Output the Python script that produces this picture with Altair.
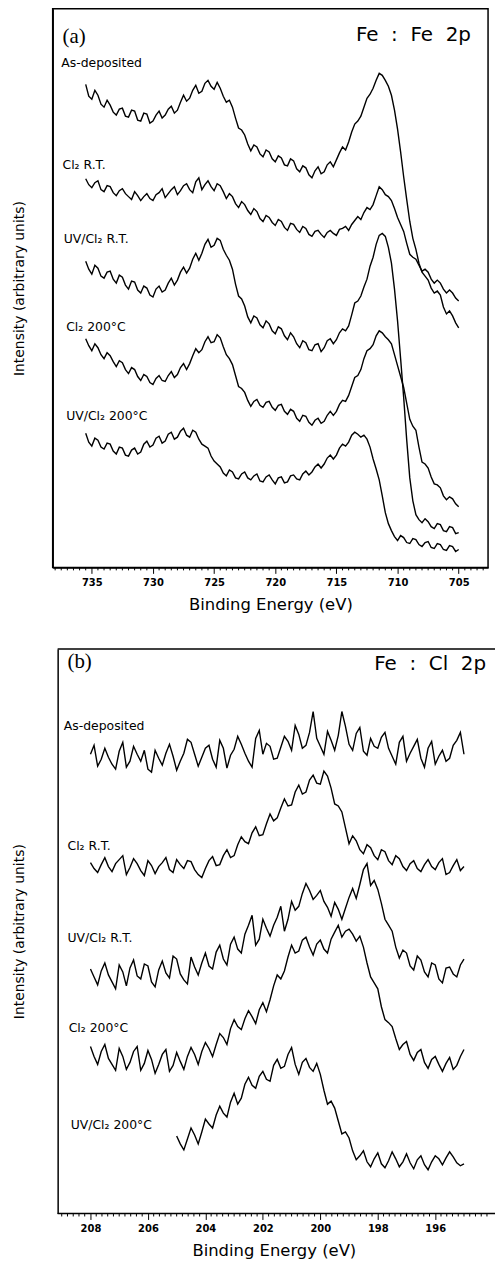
import altair as alt
import pandas as pd

FONT = "DejaVu Sans"

# ---------------- Panel (a): Fe 2p ----------------
FE_E = [735.5 - 0.25 * i for i in range(123)]  # binding-energy sampling grid (eV)

fe_as_dep = [486, 474, 471, 480, 475, 466, 463, 470, 465, 458,
             455, 461, 462, 454, 453, 460, 459, 450, 449, 457,
             456, 447, 449, 455, 459, 452, 455, 461, 464, 457,
             460, 468, 475, 469, 472, 480, 485, 477, 479, 487,
             490, 484, 481, 488, 482, 474, 468, 470, 463, 452,
             442, 440, 435, 426, 419, 425, 423, 416, 413, 420,
             418, 411, 408, 414, 412, 405, 404, 411, 409, 401,
             398, 404, 402, 395, 392, 399, 403, 396, 398, 405,
             408, 403, 410, 417, 423, 420, 428, 438, 446, 449,
             454, 463, 472, 476, 482, 490, 497, 495, 490, 484,
             475, 460, 441, 418, 393, 370, 348, 331, 320, 306,
             297, 293, 289, 281, 276, 278, 274, 262, 255, 258,
             253, 246, 241]
fe_cl2_rt = [391, 385, 382, 387, 389, 380, 378, 384, 383, 377,
             374, 379, 381, 376, 373, 370, 378, 374, 369, 373,
             376, 371, 369, 375, 377, 381, 372, 376, 380, 383,
             375, 379, 384, 386, 380, 377, 388, 392, 380, 385,
             389, 383, 379, 386, 384, 378, 371, 376, 373, 366,
             362, 368, 365, 359, 355, 361, 358, 351, 348, 354,
             352, 347, 344, 350, 348, 342, 339, 346, 345, 340,
             337, 343, 341, 335, 333, 338, 339, 335, 332, 337,
             339, 336, 334, 340, 341, 343, 339, 345, 349, 353,
             350, 357, 362, 360, 365, 374, 383, 380, 375, 373,
             369, 361, 352, 345, 338, 326, 315, 312, 310, 304,
             298, 300, 297, 290, 286, 289, 286, 280, 276, 279,
             276, 271, 268]
fe_uv_rt = [308, 300, 295, 304, 301, 293, 291, 297, 298, 290,
            286, 294, 292, 284, 280, 288, 287, 279, 276, 283,
            281, 274, 272, 280, 283, 277, 279, 286, 291, 284,
            289, 297, 302, 296, 301, 310, 316, 309, 316, 325,
            330, 322, 324, 331, 329, 320, 314, 309, 300, 285,
            273, 270, 263, 252, 246, 253, 251, 244, 241, 248,
            245, 238, 235, 242, 240, 233, 229, 236, 232, 225,
            221, 228, 226, 219, 218, 224, 225, 217, 221, 228,
            230, 225, 229, 236, 240, 238, 243, 254, 266, 268,
            273, 282, 290, 303, 312, 325, 334, 336, 333, 322,
            306, 280, 248, 210, 171, 128, 90, 67, 53, 48,
            45, 49, 46, 41, 39, 44, 43, 37, 36, 41,
            40, 34, 35]
fe_cl2_200 = [230, 223, 218, 225, 221, 214, 210, 216, 213, 207,
              202, 208, 206, 199, 195, 201, 199, 192, 188, 194,
              192, 186, 184, 190, 193, 188, 187, 193, 197, 191,
              194, 201, 205, 199, 205, 213, 220, 216, 219, 227,
              232, 226, 227, 234, 231, 222, 214, 210, 204, 193,
              182, 180, 176, 168, 162, 167, 169, 163, 161, 166,
              167, 161, 158, 163, 164, 157, 154, 159, 157, 150,
              147, 153, 152, 146, 143, 148, 150, 145, 147, 153,
              157, 153, 157, 164, 168, 167, 173, 182, 191, 193,
              199, 210, 218, 220, 224, 233, 238, 236, 232, 229,
              225, 214, 203, 192, 181, 165, 149, 142, 138, 121,
              106, 104, 100, 91, 84, 83, 80, 72, 68, 71,
              69, 64, 61]
fe_uv_200 = [135, 126, 122, 130, 128, 121, 119, 125, 124, 117,
             114, 121, 120, 113, 112, 118, 120, 114, 116, 124,
             127, 121, 123, 130, 132, 125, 127, 134, 136, 129,
             131, 137, 140, 133, 131, 138, 136, 129, 124, 122,
             120, 112, 107, 104, 101, 95, 92, 98, 96, 90,
             89, 94, 96, 90, 88, 92, 94, 87, 86, 91,
             93, 88, 84, 90, 91, 85, 86, 92, 93, 89,
             88, 94, 97, 93, 96, 101, 104, 100, 104, 110,
             113, 109, 113, 120, 124, 122, 126, 133, 136, 134,
             131, 133, 129, 121, 109, 99, 88, 72, 55, 44,
             37, 31, 27, 32, 30, 25, 24, 29, 28, 23,
             21, 25, 26, 20, 19, 24, 23, 18, 17, 22,
             21, 16, 18]

# ---------------- Panel (b): Cl 2p ----------------
CL_E = [208.0 - 0.125 * i for i in range(105)]

cl_as_dep = [462, 471, 450, 457, 468, 459, 452, 447, 465, 474,
             449, 455, 470, 462, 455, 466, 447, 444, 466, 458,
             451, 463, 472, 460, 446, 455, 463, 477, 474, 462,
             450, 459, 468, 471, 457, 449, 476, 468, 448, 461,
             467, 480, 472, 463, 455, 449, 478, 486, 462, 473,
             470, 457, 458, 469, 480, 475, 466, 491, 482, 468,
             471, 484, 505, 478, 470, 462, 485, 476, 466, 481,
             505, 490, 472, 466, 483, 489, 465, 461, 478, 470,
             468, 479, 484, 468, 460, 452, 474, 480, 455, 463,
             470, 477, 458, 449, 468, 475, 452, 460, 466, 455,
             458, 471, 476, 484, 462]
cl_cl2_rt = [353, 347, 343, 351, 358, 349, 344, 352, 356, 360,
             341, 348, 357, 352, 345, 340, 355, 350, 342, 349,
             353, 358, 346, 343, 356, 351, 347, 355, 354, 346,
             341, 338, 347, 355, 359, 350, 351, 360, 366, 358,
             360, 371, 379, 374, 372, 383, 389, 380, 381, 392,
             402, 395, 398, 408, 417, 410, 411, 424, 431, 422,
             424, 436, 441, 433, 432, 445, 440, 428, 412, 410,
             404, 388, 372, 380, 375, 366, 362, 371, 368, 360,
             356, 366, 364, 355, 351, 360, 357, 349, 345, 352,
             355, 347, 344, 351, 356, 349, 346, 353, 357, 341,
             343, 350, 356, 345, 349]
cl_uv_rt = [246, 238, 230, 244, 252, 240, 233, 226, 250, 243,
            229, 247, 255, 239, 236, 251, 249, 233, 228, 245,
            254, 242, 237, 259, 256, 241, 235, 231, 258, 248,
            240, 252, 262, 249, 246, 263, 270, 256, 250, 271,
            278, 266, 262, 281, 290, 300, 270, 276, 296, 287,
            279, 290, 298, 309, 284, 296, 314, 305, 309, 322,
            332, 325, 316, 320, 325, 314, 308, 299, 313, 306,
            296, 307, 318, 327, 317, 331, 346, 352, 330, 335,
            326, 312, 296, 290, 284, 268, 257, 265, 262, 249,
            245, 259, 255, 243, 238, 252, 250, 236, 232, 247,
            248, 241, 238, 250, 256]
cl_cl2_200 = [168, 158, 150, 163, 170, 156, 150, 144, 166, 158,
              145, 152, 163, 168, 144, 151, 164, 155, 141, 150,
              160, 165, 143, 149, 162, 153, 145, 158, 167, 160,
              150, 163, 172, 166, 158, 170, 181, 177, 170, 186,
              195, 188, 185, 196, 204, 198, 191, 205, 212, 203,
              215, 229, 240, 236, 244, 258, 270, 262, 264, 275,
              278, 268, 260, 271, 275, 266, 262, 276, 283, 290,
              278, 284, 286, 281, 274, 279, 268, 252, 238, 232,
              226, 208, 195, 192, 188, 176, 165, 170, 173, 160,
              154, 162, 165, 152, 146, 155, 158, 150, 143, 151,
              157, 145, 149, 158, 165]
cl_uv_200 = [78, 70, 64, 75, 86, 79, 70, 82, 95, 90,
             86, 99, 108, 101, 97, 112, 121, 110, 116, 130,
             137, 129, 126, 138, 143, 135, 133, 149, 155, 146,
             148, 160, 167, 150, 140, 152, 156, 147, 143, 151,
             140, 124, 110, 113, 106, 93, 80, 82, 76, 63,
             54, 58, 63, 52, 47, 55, 61, 50, 46, 53,
             62, 55, 47, 52, 60, 51, 45, 54, 58, 49,
             44, 52, 58, 55, 49, 56, 62, 57, 51, 48,
             50]

series_names = ["As-deposited", "Cl₂ R.T.", "UV/Cl₂ R.T.", "Cl₂ 200°C", "UV/Cl₂ 200°C"]

# label anchors (energy, intensity)
fe_label_E = [737.5, 737.4, 737.3, 737.1, 737.1]
fe_label_I = [503, 401, 326, 238, 148]
cl_label_E = [208.93, 208.8, 208.8, 208.76, 208.69]
cl_label_I = [486, 366, 273, 183, 85]

fe_df = pd.concat([
    pd.DataFrame({"E": FE_E, "I": vals, "s": name})
    for name, vals in zip(series_names, [fe_as_dep, fe_cl2_rt, fe_uv_rt, fe_cl2_200, fe_uv_200])
])
cl_df = pd.concat([
    pd.DataFrame({"E": CL_E, "I": cl_as_dep, "s": series_names[0]}),
    pd.DataFrame({"E": CL_E, "I": cl_cl2_rt, "s": series_names[1]}),
    pd.DataFrame({"E": CL_E, "I": cl_uv_rt, "s": series_names[2]}),
    pd.DataFrame({"E": CL_E, "I": cl_cl2_200, "s": series_names[3]}),
    pd.DataFrame({"E": CL_E[24:], "I": cl_uv_200, "s": series_names[4]}),
])


def panel(df, lab_E, lab_I, tag, tag_E, tag_I, head, head_E, head_I,
          xdom, ydom, W, H, majors, minors, inset, framed):
    xs = alt.Scale(domain=xdom, reverse=True, nice=False, zero=False)
    ys = alt.Scale(domain=ydom, nice=False, zero=False)
    xa = alt.Axis(values=majors, format="d", title="Binding Energy (eV)",
                  tickSize=6, tickWidth=1, tickColor="black",
                  labelFont=FONT, labelFontSize=10, labelFontWeight="bold",
                  labelColor="black", labelPadding=4,
                  titleFont=FONT, titleFontSize=16.5, titleFontWeight="normal",
                  titleColor="black", titlePadding=9,
                  domain=framed, domainColor="black", domainWidth=1.5, grid=False)
    ya = alt.Axis(title="Intensity (arbitrary units)", labels=False, ticks=False,
                  grid=False, domainColor="black", domainWidth=1.5, offset=-inset,
                  titleFont=FONT, titleFontSize=14, titleFontWeight="normal",
                  titleColor="black", titlePadding=26 + inset)
    lines = alt.Chart(df).mark_line(color="black", strokeWidth=1.4).encode(
        x=alt.X("E:Q", scale=xs, axis=xa),
        y=alt.Y("I:Q", scale=ys, axis=ya),
        detail="s:N",
    )
    labdf = pd.DataFrame({"E": lab_E, "I": lab_I, "t": series_names})
    labels = alt.Chart(labdf).mark_text(
        align="left", baseline="alphabetic", font=FONT, fontSize=12.5, color="black"
    ).encode(x="E:Q", y="I:Q", text="t:N")
    tagc = alt.Chart(pd.DataFrame({"E": [tag_E], "I": [tag_I], "t": [tag]})).mark_text(
        align="left", baseline="alphabetic", font="Liberation Serif", fontSize=21, color="black"
    ).encode(x="E:Q", y="I:Q", text="t:N")
    headc = alt.Chart(pd.DataFrame({"E": [head_E], "I": [head_I], "t": [head]})).mark_text(
        align="right", baseline="alphabetic", font=FONT, fontSize=20, color="black"
    ).encode(x="E:Q", y="I:Q", text="t:N")
    ticks = alt.Chart(pd.DataFrame({"E": minors})).mark_rule(color="black", strokeWidth=1).encode(
        x="E:Q", y=alt.value(H), y2=alt.value(H + 3)
    )
    layers = [lines, labels, tagc, headc, ticks]
    if framed:
        view = alt.ViewBackground(stroke="black", strokeWidth=1.5)
    else:
        view = alt.ViewBackground(stroke="transparent")
        frame = pd.DataFrame({"k": [0]})
        top = alt.Chart(frame).mark_rule(color="black", strokeWidth=1.5).encode(
            x=alt.value(inset), x2=alt.value(W), y=alt.value(0)
        )
        bottom = alt.Chart(frame).mark_rule(color="black", strokeWidth=1.5).encode(
            x=alt.value(inset), x2=alt.value(W), y=alt.value(H)
        )
        layers += [top, bottom]
    return alt.layer(*layers).properties(width=W, height=H, view=view)


fe_minor = [703.0 + 0.5 * k for k in range(71) if (703.0 + 0.5 * k) % 5 != 0]
cl_minor = [round(194.0 + 0.2 * k, 1) for k in range(76) if round(194.0 + 0.2 * k, 1) % 2 != 0]

HEAD_FE = "Fe\u00a0\u00a0:\u00a0\u00a0Fe\u00a0\u00a02p"
HEAD_CL = "Fe\u00a0\u00a0:\u00a0\u00a0Cl\u00a0\u00a02p"

pa = panel(fe_df, fe_label_E, fe_label_I, "(a)", 737.4, 528,
           HEAD_FE, 704.0, 530,
           [702.6, 738.2], [0, 562], 438, 562,
           [735, 730, 725, 720, 715, 710, 705], fe_minor, 0, True)
pb = panel(cl_df, cl_label_E, cl_label_I, "(b)", 208.8, 549,
           HEAD_CL, 194.23, 547,
           [193.92, 209.315], [0, 568], 445, 568,
           [208, 206, 204, 202, 200, 198, 196], cl_minor, 5, False)

chart = alt.ConcatChart(concat=[pa, pb], columns=1, spacing=33).properties(
    padding={"left": 12, "top": 4, "right": 0, "bottom": 0},
    background="white",
)

chart.save("out.html", embed_options={"renderer": "svg", "actions": False})
